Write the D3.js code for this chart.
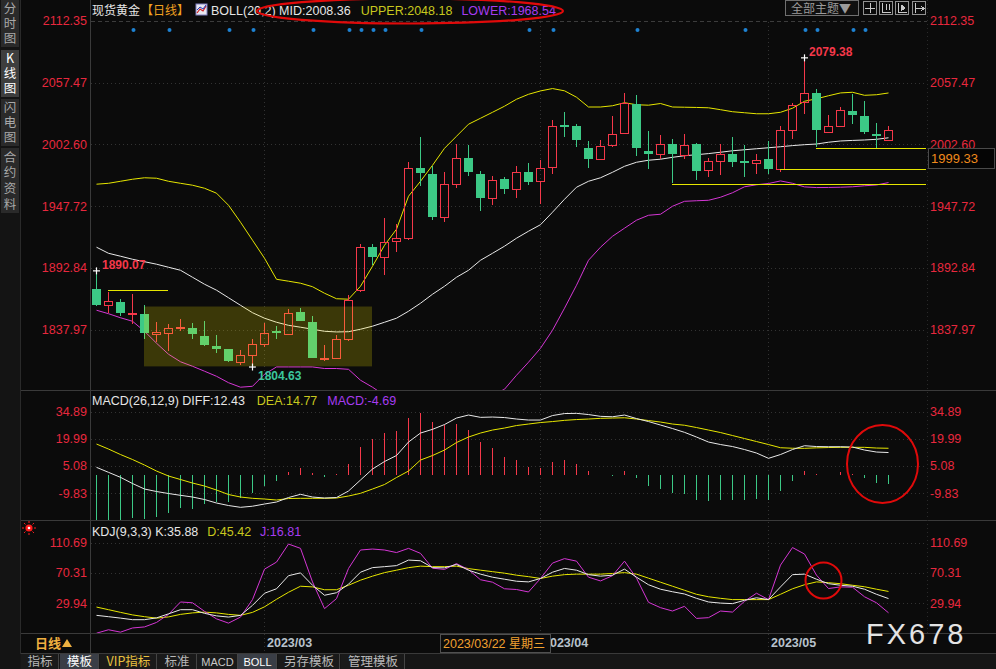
<!DOCTYPE html>
<html><head><meta charset="utf-8">
<script src="https://cdn.jsdelivr.net/npm/d3@7"></script>
<style>
html,body{margin:0;padding:0;background:#0b0b0b;overflow:hidden;}
svg{display:block;}
text{font-family:"Liberation Sans",Arial,"Noto Sans CJK SC",sans-serif;}
.cjk{font-family:"Noto Sans CJK SC","Liberation Sans",sans-serif;}
.vert{writing-mode:vertical-rl;text-orientation:upright;font-family:"Noto Sans CJK SC",sans-serif;}
</style></head><body>
<svg id="c" width="996" height="669"></svg>
<script>
// ---------------- DATA ----------------
const dates = ["2023-02-09","2023-02-10","2023-02-13","2023-02-14","2023-02-15","2023-02-16","2023-02-17","2023-02-20","2023-02-21","2023-02-22","2023-02-23","2023-02-24","2023-02-27","2023-02-28",
"2023-03-01","2023-03-02","2023-03-03","2023-03-06","2023-03-07","2023-03-08","2023-03-09","2023-03-10","2023-03-13","2023-03-14","2023-03-15","2023-03-16","2023-03-17","2023-03-20","2023-03-21","2023-03-22","2023-03-23","2023-03-24","2023-03-27","2023-03-28","2023-03-29","2023-03-30","2023-03-31",
"2023-04-03","2023-04-04","2023-04-05","2023-04-06","2023-04-10","2023-04-11","2023-04-12","2023-04-13","2023-04-14","2023-04-17","2023-04-18","2023-04-19","2023-04-20","2023-04-21","2023-04-24","2023-04-25","2023-04-26","2023-04-27","2023-04-28",
"2023-05-01","2023-05-02","2023-05-03","2023-05-04","2023-05-05","2023-05-08","2023-05-09","2023-05-10","2023-05-11","2023-05-12","2023-05-15"];
const openP = [1873.7,1860.1,1862.2,1852.1,1851.5,1834.4,1834.9,1839.4,1839.7,1832.6,1823.1,1820.4,1809.5,1815.4,
1825.5,1836.4,1834.4,1853.3,1844.4,1811.5,1812.2,1829.6,1872.9,1911.1,1902.0,1917.0,1919.7,1981.9,1976.6,1938.0,1967.7,1990.8,1975.9,1955.2,1971.5,1963.2,1978.3,
1969.5,1982.4,2019.8,2018.6,1999.7,1989.5,2002.3,2013.0,2038.1,1996.6,1994.3,2003.2,1992.8,2002.6,1980.1,1987.8,1994.3,1987.5,1986.0,
1989.3,1980.4,2015.7,2040.2,2047.7,2013.9,2018.9,2031.9,2027.5,2012.1,2006.2];
const highP = [1890.07,1871.3,1865.5,1869.9,1859.5,1844.7,1842.6,1847.1,1843.8,1845.6,1832.9,1821.0,1819.5,1829.9,
1843.8,1840.9,1856.0,1857.5,1850.4,1824.0,1833.5,1869.0,1913.7,1913.7,1936.8,1932.1,1986.6,2008.8,1983.7,1977.7,2002.6,2001.7,1978.6,1974.2,1973.3,1983.7,1986.3,
1989.0,2023.9,2031.0,2020.4,2005.3,2006.2,2027.5,2047.7,2046.1,2014.2,2010.6,2007.0,2011.5,2004.1,1990.4,2002.6,2008.6,2002.3,1994.3,
2005.5,2018.6,2039.3,2079.38,2052.1,2028.4,2035.7,2047.0,2040.8,2021.5,2018.6];
const lowP = [1858.6,1852.7,1850.0,1843.3,1829.9,1826.9,1818.9,1836.4,1829.6,1823.4,1817.1,1809.1,1806.8,1804.63,
1822.5,1829.6,1834.0,1845.2,1812.3,1809.8,1811.5,1827.8,1871.5,1895.1,1886.2,1906.9,1917.9,1965.3,1935.1,1933.6,1963.8,1974.2,1943.3,1948.7,1958.4,1954.9,1966.4,
1949.3,1975.9,2009.1,2000.2,1981.5,1989.0,2000.2,2012.5,1991.9,1980.6,1989.9,1968.5,1989.3,1971.2,1973.5,1975.0,1982.4,1973.5,1975.9,
1975.9,1978.0,2007.0,2029.9,2000.2,2013.5,2018.5,2020.4,2011.5,1999.7,2006.0];
const closeP = [1860.1,1863.7,1852.7,1852.7,1834.9,1835.8,1839.7,1840.2,1834.0,1824.0,1820.7,1810.0,1815.4,1825.1,
1835.3,1835.5,1853.0,1845.6,1812.7,1812.4,1829.3,1864.6,1911.7,1902.2,1916.1,1919.1,1981.9,1977.1,1938.0,1967.7,1990.8,1978.0,1954.9,1971.2,1962.9,1978.3,1969.1,
1981.9,2018.6,2018.0,2006.2,1989.3,2001.4,2012.1,2039.3,1999.3,1994.0,2003.2,1993.7,2002.3,1978.9,1987.5,1994.3,1986.9,1986.0,1989.0,
1980.4,2015.0,2037.3,2047.7,2015.7,2018.9,2032.8,2028.4,2013.5,2010.0,2015.0];

const bollMid = [1911.1,1905.7,1903.1,1900.4,1898.2,1896.0,1893.3,1890.6,1884.4,1878.2,1872.9,1866.2,1859.5,1852.9,
1848.0,1844.4,1841.7,1840.0,1838.2,1836.4,1835.8,1836.0,1838.2,1840.9,1844.4,1848.0,1854.2,1861.3,1869.3,1876.4,1884.4,1890.6,1899.5,1905.7,1912.0,1919.1,1925.3,
1931.1,1942.2,1953.7,1964.4,1969.7,1972.8,1977.7,1983.0,1986.6,1988.4,1989.3,1991.0,1992.4,1993.3,1994.3,1995.5,1996.8,1997.7,1998.6,
1999.5,2000.4,2001.4,2002.2,2002.8,2004.4,2005.5,2006.0,2006.4,2007.0,2008.36];
const bollUpper = [1967.1,1967.9,1969.7,1971.5,1972.8,1972.4,1969.7,1967.9,1966.2,1963.5,1959.1,1948.4,1933.3,1917.3,
1901.3,1882.6,1880.9,1879.1,1876.0,1870.2,1865.3,1864.9,1876.4,1894.2,1912.8,1927.1,1956.4,1969.7,1983.9,1999.0,2009.7,2020.4,2025.7,2031.0,2036.4,2042.6,2047.0,
2050.0,2052.1,2050.1,2044.4,2035.7,2035.7,2036.8,2039.5,2037.7,2037.3,2038.8,2035.7,2035.5,2035.3,2035.0,2033.3,2031.5,2030.6,2029.7,
2029.7,2031.0,2034.6,2040.8,2043.0,2045.7,2048.2,2048.8,2046.1,2046.6,2048.18];
const bollLower = [1855.1,1852.0,1848.4,1845.3,1836.4,1825.8,1816.0,1809.3,1805.3,1800.9,1796.4,1790.7,1786.7,1787.5,
1798.2,1804.7,1804.7,1804.7,1804.7,1803.3,1803.3,1802.6,1792.9,1786.7,1779.5,1770.7,1757.3,1748.4,1744.0,1746.7,1752.9,1761.8,1770.7,1779.5,1784.9,1797.3,1808.9,
1821.3,1837.3,1856.9,1877.3,1899.5,1911.1,1920.8,1928.0,1935.1,1939.5,1940.4,1947.5,1951.9,1952.4,1952.8,1955.5,1959.5,1964.8,1966.6,
1967.7,1970.0,1967.9,1964.7,1964.1,1964.2,1964.4,1964.8,1965.7,1966.4,1968.54];

const diffLine = [4.29,1.54,-1.21,-4.62,-7.64,-9.02,-10.12,-11.11,-12.04,-13.42,-15.34,-16.72,-17.71,-17.10,
-15.89,-14.79,-12.32,-10.56,-12.04,-12.59,-12.32,-8.74,-2.69,3.35,7.48,10.78,18.20,23.15,25.19,27.83,31.40,33.05,31.78,31.95,31.67,30.85,30.30,
30.30,32.77,33.87,33.98,33.32,32.33,32.11,33.05,31.12,29.47,27.55,25.63,23.54,20.95,18.20,16.83,15.73,14.08,12.15,
9.24,11.33,14.08,16.17,15.73,15.62,15.62,15.45,13.80,12.70,12.43];
const deaLine = [17.10,14.35,11.33,8.58,5.55,2.25,-0.49,-2.42,-4.34,-5.99,-8.19,-10.67,-12.04,-12.76,
-13.14,-13.69,-12.87,-12.76,-12.76,-12.76,-12.59,-11.49,-10.01,-7.64,-5.17,-1.32,2.25,8.30,10.78,13.80,17.93,20.95,23.15,24.80,25.90,27.28,28.10,
28.93,29.47,30.13,30.57,30.85,31.23,31.40,31.56,30.85,30.02,29.20,28.10,27.44,26.18,24.80,23.43,21.78,20.13,18.48,
16.83,15.07,14.79,14.74,15.01,15.18,15.29,15.29,15.29,14.90,14.77];
const macdHist = [-26,-26,-25,-23.4,-24,-22.9,-20.7,-17.9,-18.9,-15.7,-14.8,-14.8,-12.8,-9.7,
-6.0,-3.3,1.6,3.7,0.9,-0.9,0.4,5.9,15.4,19.6,23.3,24.2,31.6,33.9,29.1,27.3,27.9,24.7,18.1,14.7,10.1,8.2,4.6,
3.7,7.1,8.1,5.9,2.2,0.2,-0.3,2.2,-1.8,-5.9,-7.4,-9.7,-10.6,-13.7,-14.3,-13.7,-13.7,-13.7,-13.0,
-13.7,-8.8,-3.3,2.2,0.6,0.2,1.5,0.6,-1.8,-4.2,-4.69];

const kLine = [13.4,11.6,9.7,7.6,7.6,10.0,15.4,21.0,21.0,16.1,12.7,11.1,13.4,26.8,
43.0,49.0,66.5,70.3,53.7,40.3,43.7,55.1,71.2,77.3,78.6,80.0,87.4,86.5,77.3,77.0,81.6,73.9,68.6,64.5,61.8,59.1,58.2,
62.8,71.2,76.2,73.9,67.9,65.9,67.2,75.3,64.5,54.4,48.4,45.0,42.0,36.2,31.3,29.8,29.1,33.6,36.9,
34.5,51.5,67.9,68.6,61.8,55.8,53.7,52.4,48.4,41.6,35.88];
const dLine = [24.5,21.0,17.4,14.0,11.6,9.7,11.3,14.7,16.7,17.7,16.7,14.7,13.4,17.4,
24.8,34.9,44.3,52.4,51.5,47.7,47.7,53.7,60.5,65.9,70.6,73.9,77.3,79.3,78.6,78.6,79.3,76.0,73.9,71.9,69.9,67.2,65.2,
62.8,65.9,67.9,68.6,68.6,68.6,69.5,70.6,68.6,63.2,57.8,52.4,47.0,41.6,38.3,36.2,34.5,34.5,34.5,
34.5,41.6,49.0,54.4,58.2,57.1,55.8,53.7,51.7,48.4,45.42];
const jLine = [-10.5,-5.9,-9.1,-3.5,-2.1,3.9,14.7,31.3,30.2,18.8,8.7,3.0,11.1,34.5,
75.3,84.7,108.9,103.1,58.2,22.4,35.8,76.2,100.9,102.2,100.9,97.5,103.1,96.4,76.6,74.9,82.7,74.6,61.1,57.8,49.0,48.0,44.7,
62.8,83.4,89.4,86.0,64.5,59.5,66.5,86.0,63.2,30.9,23.7,19.2,25.5,9.3,10.3,19.2,17.8,32.2,43.0,
34.5,80.7,104.2,95.5,67.2,49.3,51.5,51.1,38.3,30.2,16.81];

const priceTicks = [2112.35,2057.47,2002.60,1947.72,1892.84,1837.97];
const macdTicks = [34.89,19.99,5.08,-9.83];
const kdjTicks = [110.69,70.31,29.94];
const monthLabels = ["2023/03","2023/04","2023/05"];
const monthDates = ["2023-03-01","2023-04-03","2023-05-01"];
const eventDates = ["2023-02-14","2023-02-17","2023-02-24","2023-02-28","2023-03-07","2023-03-10","2023-03-13","2023-03-14","2023-03-15","2023-03-20","2023-03-31","2023-04-04","2023-04-14","2023-04-27","2023-05-04","2023-05-05","2023-05-10","2023-05-11"];
const hLineStarts = ["2023-02-10","2023-04-19","2023-05-02","2023-05-05"];
const hLineEnds   = ["2023-02-17",null,null,null];
const hLineLevels = [1872.9,1967.7,1980.4,1999.33];
const boxDates = ["2023-02-15","2023-03-14"];
const boxLevels = [1858.4,1805.2];

// ---------------- STYLE ----------------
const BG="#0b0b0b", RED="#f5384a", GREEN="#3cc986", AXRED="#e8283e", GRID="#333";
const YEL="#e6e600", MAG="#d436d4", WHT="#e8e8e8";
const PL=90, PR=927;
const f2 = v => (+v).toFixed(2);

const svg = d3.select("#c");
svg.append("rect").attr("width",996).attr("height",669).attr("fill",BG);

const x = d3.scalePoint().domain(dates).range([96,888]);
const yP = d3.scaleLinear().domain([1837.97,2112.35]).range([329.5,20.75]);
const yM = d3.scaleLinear().domain([-9.83,34.89]).range([493,411.7]);
const yK = d3.scaleLinear().domain([29.94,110.69]).range([603,542.7]);

const defs = svg.append("defs");
function clip(id,y0,y1){defs.append("clipPath").attr("id",id).append("rect").attr("x",PL+1).attr("y",y0).attr("width",PR-PL-1).attr("height",y1-y0);}
clip("cm",0,390); clip("cd",391,520); clip("ck",521,633);

// ---------- frame ----------
const fr = svg.append("g").attr("shape-rendering","crispEdges");
fr.append("rect").attr("x",0).attr("y",0).attr("width",20).attr("height",669).attr("fill","#141414");
[390,520,633,653].forEach(yy=>fr.append("line").attr("x1",20).attr("x2",996).attr("y1",yy+0.5).attr("y2",yy+0.5).attr("stroke","#3a3a3a"));
fr.append("line").attr("x1",PL+0.5).attr("x2",PL+0.5).attr("y1",0).attr("y2",653).attr("stroke","#3a3a3a");
fr.append("line").attr("x1",20.5).attr("x2",20.5).attr("y1",0).attr("y2",669).attr("stroke","#2a2a2a");
fr.append("line").attr("x1",PR+0.5).attr("x2",PR+0.5).attr("y1",0).attr("y2",633).attr("stroke","#2a2a2a").attr("stroke-dasharray","1,3");
fr.append("rect").attr("x",20).attr("y",654).attr("width",976).attr("height",15).attr("fill","#161616");

// sidebar tabs (vertical writing, one text per tab)
const tabs=[["分时图",0,47,false],["K线图",50,97,true],["闪电图",99,146,false],["合约资料",148,213,false]];
tabs.forEach(([t,y0,y1,act])=>{
  fr.append("rect").attr("x",1).attr("y",y0).attr("width",18).attr("height",y1-y0).attr("fill",act?"#3e3e3e":"#2a2a2a");
  const n=[...t].length, fs=12.5, step=(y1-y0-2)/n;
  svg.append("text").attr("class","vert").attr("x",10).attr("y",y0+1+(step-fs)/2).attr("font-size",fs)
    .attr("letter-spacing",step-fs).attr("fill",act?"#ffffff":"#a8a8a8").text(t);
});

// ---------- grids ----------
const gg = svg.append("g").attr("shape-rendering","crispEdges");
priceTicks.forEach((v,i)=>gg.append("line").attr("x1",PL+1).attr("x2",PR).attr("y1",Math.round(yP(v))+0.5).attr("y2",Math.round(yP(v))+0.5)
  .attr("stroke",i===0?"#3c3c3c":GRID).attr("stroke-dasharray",i===0?"4,3":"1,3"));
macdTicks.forEach(v=>gg.append("line").attr("x1",PL+1).attr("x2",PR).attr("y1",Math.round(yM(v))+0.5).attr("y2",Math.round(yM(v))+0.5).attr("stroke",GRID).attr("stroke-dasharray","1,3"));
kdjTicks.forEach(v=>gg.append("line").attr("x1",PL+1).attr("x2",PR).attr("y1",Math.round(yK(v))+0.5).attr("y2",Math.round(yK(v))+0.5).attr("stroke",GRID).attr("stroke-dasharray","1,3"));
monthDates.forEach(d=>gg.append("line").attr("x1",x(d)+0.5).attr("x2",x(d)+0.5).attr("y1",22).attr("y2",653).attr("stroke",GRID).attr("stroke-dasharray","1,3"));

// ---------- axes ----------
function axisLabels(ticks,scale){
  ticks.forEach(v=>{
    svg.append("text").attr("x",87).attr("y",scale(v)+4.5).attr("text-anchor","end").attr("font-size",12.5).attr("fill",AXRED).text(f2(v));
    svg.append("text").attr("x",930).attr("y",scale(v)+4.5).attr("font-size",12.5).attr("fill",AXRED).text(f2(v));
  });
}
axisLabels(priceTicks,yP); axisLabels(macdTicks,yM); axisLabels(kdjTicks,yK);

// ---------- main panel ----------
const gm = svg.append("g").attr("clip-path","url(#cm)");
const lineP = arr => d3.line().x((d,i)=>x(dates[i])+0.5).y(d=>yP(d))(arr);
gm.append("path").attr("d",lineP(bollUpper)).attr("fill","none").attr("stroke",YEL).attr("stroke-width",1);
gm.append("path").attr("d",lineP(bollLower)).attr("fill","none").attr("stroke",MAG).attr("stroke-width",1);
gm.append("path").attr("d",lineP(bollMid)).attr("fill","none").attr("stroke",WHT).attr("stroke-width",1);

const gc = gm.append("g").attr("shape-rendering","crispEdges");
dates.forEach((d,i)=>{
  const o=openP[i],h=highP[i],l=lowP[i],c=closeP[i];
  const up=c>=o, col=up?RED:GREEN, cx=x(d)+0.5;
  const top=Math.round(yP(Math.max(o,c))), bot=Math.round(yP(Math.min(o,c)));
  const hi=Math.round(yP(h)), lo=Math.round(yP(l));
  if(up){
    gc.append("line").attr("x1",cx).attr("x2",cx).attr("y1",hi).attr("y2",top).attr("stroke",col);
    gc.append("line").attr("x1",cx).attr("x2",cx).attr("y1",bot).attr("y2",lo).attr("stroke",col);
    gc.append("rect").attr("x",cx-4).attr("y",top+0.5).attr("width",8).attr("height",Math.max(bot-top,1)).attr("fill","none").attr("stroke",col).attr("stroke-width",1);
  } else {
    gc.append("line").attr("x1",cx).attr("x2",cx).attr("y1",hi).attr("y2",lo).attr("stroke",col);
    gc.append("rect").attr("x",cx-4.5).attr("y",top).attr("width",9).attr("height",Math.max(bot-top,2)).attr("fill",col);
  }
});

hLineLevels.forEach((lv,i)=>{
  const x1=x(hLineStarts[i]), x2=hLineEnds[i]?x(hLineEnds[i]):PR-1;
  gm.append("line").attr("x1",x1).attr("x2",x2).attr("y1",Math.round(yP(lv))+0.5).attr("y2",Math.round(yP(lv))+0.5)
    .attr("stroke",YEL).attr("stroke-width",1).attr("shape-rendering","crispEdges");
});
gm.append("rect").attr("x",x(boxDates[0])).attr("y",yP(boxLevels[0])).attr("width",x(boxDates[1])-x(boxDates[0]))
  .attr("height",yP(boxLevels[1])-yP(boxLevels[0])).attr("fill","rgba(255,240,0,0.2)");

function cross(cx,cy){
  gm.append("line").attr("x1",cx-3.5).attr("x2",cx+3.5).attr("y1",cy).attr("y2",cy).attr("stroke","#fff").attr("stroke-width",1.2);
  gm.append("line").attr("x1",cx).attr("x2",cx).attr("y1",cy-3.5).attr("y2",cy+3.5).attr("stroke","#fff").attr("stroke-width",1.2);
}
const iMax = d3.maxIndex(highP), iMin = d3.minIndex(lowP), iFirst=0;
cross(x(dates[iFirst])+0.5,yP(highP[iFirst])); cross(x(dates[iMin])+0.5,yP(lowP[iMin])); cross(x(dates[iMax])+0.5,yP(highP[iMax]));
gm.append("text").attr("x",x(dates[iFirst])+6).attr("y",yP(highP[iFirst])-2).attr("font-size",12).attr("font-weight","bold").attr("fill",RED).text(f2(highP[iFirst]));
gm.append("text").attr("x",x(dates[iMin])+6).attr("y",yP(lowP[iMin])+13).attr("font-size",12).attr("font-weight","bold").attr("fill","#3cc69c").text(f2(lowP[iMin]));
gm.append("text").attr("x",x(dates[iMax])+5).attr("y",yP(highP[iMax])-2).attr("font-size",12).attr("font-weight","bold").attr("fill",RED).text(f2(highP[iMax]));

eventDates.forEach(d=>gm.append("circle").attr("cx",x(d)+1.5).attr("cy",30).attr("r",2).attr("fill","#1e82d2"));

svg.append("rect").attr("x",928.5).attr("y",148.5).attr("width",66).attr("height",20).attr("fill","#050505").attr("stroke","#4a4a4a");
svg.append("text").attr("x",931).attr("y",163).attr("font-size",13).attr("fill","#f08a1c").text(f2(hLineLevels[3]));

// title
svg.append("text").attr("class","cjk").attr("x",92).attr("y",15).attr("font-size",12).attr("fill","#e6e6e6").text("现货黄金");
svg.append("text").attr("class","cjk").attr("x",141).attr("y",15).attr("font-size",12).attr("fill","#f0a020").text("【日线】");
const ic=svg.append("g").attr("transform","translate(196,4)");
ic.append("rect").attr("width",11).attr("height",11).attr("fill","#e8e8f0").attr("stroke","#8080c0");
ic.append("polyline").attr("points","1,9 4,5 7,7 10,2").attr("fill","none").attr("stroke","#d02020").attr("stroke-width",1.2);
ic.append("polyline").attr("points","1,6 4,3 7,5 10,1").attr("fill","none").attr("stroke","#2040c0").attr("stroke-width",1);
const t1 = svg.append("text").attr("y",14.5).attr("font-size",12.5);
t1.append("tspan").attr("x",211).attr("fill","#e6e6e6").text("BOLL(20,2) MID:"+f2(bollMid[66]));
t1.append("tspan").attr("dx",10).attr("fill","#c8c81e").text("UPPER:"+f2(bollUpper[66]));
t1.append("tspan").attr("dx",9).attr("fill","#a63cf0").text("LOWER:"+f2(bollLower[66]));
svg.append("ellipse").attr("cx",410).attr("cy",11).attr("rx",153).attr("ry",12.5).attr("fill","none").attr("stroke","#e00a0a").attr("stroke-width",2.2);

svg.append("rect").attr("x",785.5).attr("y",0.5).attr("width",73).attr("height",15).attr("fill","#101010").attr("stroke","#707070");
svg.append("text").attr("class","cjk").attr("x",791).attr("y",13).attr("font-size",12).attr("fill","#9a9a9a").text("全部主题▼");
[863,879,895,912].forEach((bx,k)=>{
  const b=svg.append("g").attr("transform",`translate(${bx},1)`).attr("stroke","#c8c8c8").attr("fill","none").attr("shape-rendering","crispEdges");
  b.append("rect").attr("x",0.5).attr("y",0.5).attr("width",13).attr("height",13).attr("stroke","#909090");
  if(k===0){b.append("line").attr("x1",7.5).attr("x2",7.5).attr("y1",2).attr("y2",12);b.append("line").attr("x1",2).attr("x2",12).attr("y1",7.5).attr("y2",7.5);}
  if(k===1){b.append("line").attr("x1",3.5).attr("x2",3.5).attr("y1",2).attr("y2",11);b.append("line").attr("x1",3).attr("x2",12).attr("y1",11.5).attr("y2",11.5);b.append("line").attr("x1",7.5).attr("x2",7.5).attr("y1",3).attr("y2",9);b.append("line").attr("x1",10.5).attr("x2",10.5).attr("y1",3).attr("y2",9);}
  if(k===2){b.append("line").attr("x1",3.5).attr("x2",3.5).attr("y1",2).attr("y2",11);b.append("line").attr("x1",3).attr("x2",12).attr("y1",11.5).attr("y2",11.5);b.append("path").attr("d","M6,4 L10,7 L6,10Z").attr("fill","#c8c8c8");}
  if(k===3){b.append("line").attr("x1",3.5).attr("x2",3.5).attr("y1",2).attr("y2",12);b.append("line").attr("x1",4).attr("x2",11).attr("y1",7.5).attr("y2",7.5);b.append("path").attr("d","M9,5 L12,7.5 L9,10").attr("fill","none");}
});

// ---------- MACD ----------
const gd = svg.append("g").attr("clip-path","url(#cd)");
const gb = gd.append("g").attr("shape-rendering","crispEdges");
macdHist.forEach((v,i)=>{
  gb.append("line").attr("x1",x(dates[i])+0.5).attr("x2",x(dates[i])+0.5).attr("y1",yM(0)).attr("y2",yM(v)).attr("stroke",v>=0?RED:GREEN).attr("stroke-width",1);
});
const lineM = arr => d3.line().x((d,i)=>x(dates[i])+0.5).y(d=>yM(d))(arr);
gd.append("path").attr("d",lineM(deaLine)).attr("fill","none").attr("stroke",YEL);
gd.append("path").attr("d",lineM(diffLine)).attr("fill","none").attr("stroke",WHT);
const t2=svg.append("text").attr("x",92).attr("y",405).attr("font-size",12.5);
t2.append("tspan").attr("fill","#e6e6e6").text("MACD(26,12,9) DIFF:"+f2(diffLine[66]));
t2.append("tspan").attr("dx",12).attr("fill","#c8c81e").text("DEA:"+f2(deaLine[66]));
t2.append("tspan").attr("dx",10).attr("fill","#a63cf0").text("MACD:"+f2(macdHist[66]));
svg.append("ellipse").attr("cx",882.5).attr("cy",464).attr("rx",35.5).attr("ry",39).attr("fill","none").attr("stroke","#e00a0a").attr("stroke-width",2);

// ---------- KDJ ----------
const gk = svg.append("g").attr("clip-path","url(#ck)");
const lineK = arr => d3.line().x((d,i)=>x(dates[i])+0.5).y(d=>yK(d))(arr);
gk.append("path").attr("d",lineK(dLine)).attr("fill","none").attr("stroke",YEL);
gk.append("path").attr("d",lineK(jLine)).attr("fill","none").attr("stroke",MAG);
gk.append("path").attr("d",lineK(kLine)).attr("fill","none").attr("stroke",WHT);
const t3=svg.append("text").attr("x",92).attr("y",536).attr("font-size",12.5);
t3.append("tspan").attr("fill","#e6e6e6").text("KDJ(9,3,3) K:"+f2(kLine[66]));
t3.append("tspan").attr("dx",9).attr("fill","#c8c81e").text("D:"+f2(dLine[66]));
t3.append("tspan").attr("dx",9).attr("fill","#a63cf0").text("J:"+f2(jLine[66]));
svg.append("circle").attr("cx",823.5).attr("cy",580.5).attr("r",18).attr("fill","none").attr("stroke","#e00a0a").attr("stroke-width",2);
const si=svg.append("g").attr("transform","translate(29,528)");
for(let a=0;a<8;a++){const r=a*Math.PI/4;si.append("line").attr("x1",Math.cos(r)*5).attr("y1",Math.sin(r)*5).attr("x2",Math.cos(r)*7).attr("y2",Math.sin(r)*7).attr("stroke","#ff2020").attr("stroke-width",1);}
si.append("circle").attr("r",3.6).attr("fill","#ff1a1a");
si.append("circle").attr("r",1.3).attr("fill","#fff");

// ---------- date axis ----------
svg.append("text").attr("class","cjk").attr("x",35).attr("y",648).attr("font-size",13).attr("font-weight","bold").attr("fill","#f0b040").text("日线");
svg.append("path").attr("d","M62,647 L67,639 L72,647Z").attr("fill","#f0b040");
monthLabels.forEach((m,i)=>svg.append("text").attr("x",x(monthDates[i])+3).attr("y",647).attr("font-size",12.5).attr("font-weight","bold").attr("fill","#b8c2cc").text(m));
const cdate = "2023-03-22";
svg.append("rect").attr("x",x(cdate)-3.5).attr("y",634.5).attr("width",110).attr("height",18).attr("fill","#0b0b0b").attr("stroke","#505050");
svg.append("text").attr("x",x(cdate)-1).attr("y",648).attr("font-size",12.5).attr("fill","#f0a030")
  .text("2023/03/22 ").append("tspan").attr("class","cjk").attr("font-size",12).text("星期三");

svg.append("text").attr("x",866).attr("y",644).attr("font-size",29).attr("letter-spacing",3).attr("fill","#e4e4e4").text("FX678");

// ---------- bottom tabs ----------
const btabs=[["指标",21,59,false,"#b8b8b8"],["模板",60,99,true,"#ffffff"],["VIP指标",100,157,false,"#e8c040"],["标准",157,197,false,"#b8b8b8"],["MACD",197,238,false,"#c8c8c8"],["BOLL",238,277,true,"#ffffff"],["另存模板",278,340,false,"#b8b8b8"],["管理模板",341,405,false,"#b8b8b8"]];
btabs.forEach(([t,x0,x1,act,col])=>{
  svg.append("rect").attr("x",x0).attr("y",654).attr("width",x1-x0-1).attr("height",15).attr("fill",act?"#3a3e46":"#1a1a1a");
  svg.append("line").attr("x1",x1-0.5).attr("x2",x1-0.5).attr("y1",654).attr("y2",669).attr("stroke","#444");
  const isMono = (t==="MACD"||t==="BOLL");
  svg.append("text").attr("class",isMono?"":"cjk").attr("x",(x0+x1)/2).attr("y",666).attr("text-anchor","middle")
    .attr("font-size",isMono?11:12.5).attr("font-family",isMono?"'Liberation Mono',monospace":null).attr("fill",col).text(t);
});
</script>
</body></html>
